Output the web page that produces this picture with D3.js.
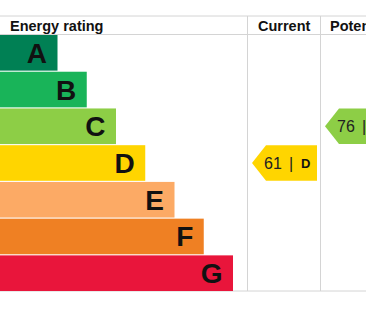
<!DOCTYPE html>
<html>
<meta charset="utf-8">
<script src="https://d3js.org/d3.v7.min.js"></script>
<style>
  body { margin: 0; background: #fff; }
  text { font-family: "Liberation Sans", Arial, sans-serif; }
</style>
<body>
<div id="chart"></div>
<script>
// rating bands, best to worst
var bands = ["A", "B", "C", "D", "E", "F", "G"];
var bandColors = ["#008054", "#19b459", "#8dce46", "#ffd500", "#fcaa65", "#ef8023", "#e9153b"];
var columns = ["Energy rating", "Current", "Potential"];
var scores = [61, 76];           // current, potential
var scoreBands = ["D", "C"];

var width = 366, height = 311;

var svg = d3.select("#chart").append("svg")
    .attr("width", width)
    .attr("height", height);

// rows and bar lengths
var y = d3.scaleBand().domain(bands).range([35, 291]).paddingInner(0.03);
var barLen = d3.scaleLinear().domain([0, bands.length - 1]).range([57.5, 233]);

// column edges
var colX = [0, 247.5, 320.5, 393.5];
var grid = "#d4d4d4";

// grid lines
[16, 34.5, 291].forEach(function(yy) {
  svg.append("line")
      .attr("x1", 0).attr("x2", width)
      .attr("y1", yy).attr("y2", yy)
      .style("stroke", grid).style("stroke-width", 1);
});
[colX[1], colX[2]].forEach(function(xx) {
  svg.append("line")
      .attr("x1", xx).attr("x2", xx)
      .attr("y1", 16).attr("y2", 291)
      .style("stroke", grid).style("stroke-width", 1);
});

// header texts
var headX = [10, 258, 330];
columns.forEach(function(c, i) {
  svg.append("text").attr("x", headX[i]).attr("y", 30.5)
      .style("font-size", "14.5px").style("font-weight", "bold")
      .style("fill", "#111")
      .text(c);
});

// bars
svg.selectAll(".bar")
    .data(bands)
  .enter().append("rect")
    .attr("class", "bar")
    .attr("x", 0)
    .attr("y", function(d) { return y(d); })
    .attr("width", function(d, i) { return barLen(i); })
    .attr("height", y.bandwidth())
    .style("fill", function(d, i) { return bandColors[i]; });

svg.selectAll(".bandlabel")
    .data(bands)
  .enter().append("text")
    .attr("class", "bandlabel")
    .attr("x", function(d, i) { return barLen(i) - 10.5; })
    .attr("y", function(d) { return y(d) + y.bandwidth() / 2 + 10; })
    .attr("text-anchor", "end")
    .style("font-size", "28px")
    .style("font-weight", "bold")
    .style("fill", "#111")
    .text(function(d) { return d; });

// score arrows
scores.forEach(function(s, k) {
  var b = scoreBands[k];
  var top = y(b), bot = y(b) + y.bandwidth(), mid = (top + bot) / 2;
  var tip = colX[k + 1] + 4.5, body = tip + 14, right = colX[k + 2] - 3.5;
  var color = bandColors[bands.indexOf(b)];
  svg.append("path")
      .attr("d", "M" + tip + "," + mid + "L" + body + "," + top + "L" + right + "," + top +
                 "L" + right + "," + bot + "L" + body + "," + bot + "Z")
      .style("fill", color);
  svg.append("text")
      .attr("x", tip + 12).attr("y", mid + 5.5)
      .style("font-size", "16px").style("fill", "#222")
      .text(s);
  svg.append("text")
      .attr("x", tip + 37).attr("y", mid + 5.5)
      .style("font-size", "16px").style("fill", "#222")
      .text("|");
  svg.append("text")
      .attr("x", tip + 49).attr("y", mid + 4.5)
      .style("font-size", "13px").style("font-weight", "bold").style("fill", "#111")
      .text(b);
});
</script>
</body>
</html>
